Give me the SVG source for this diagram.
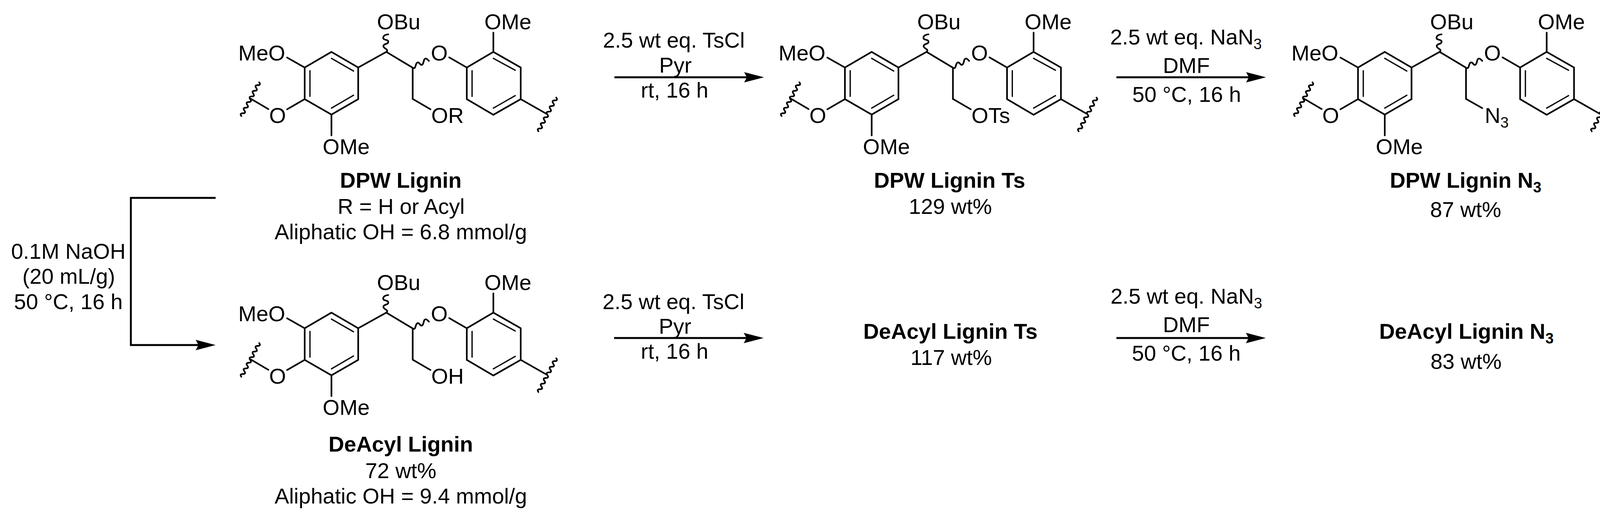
<svg xmlns="http://www.w3.org/2000/svg" xmlns:xlink="http://www.w3.org/1999/xlink" width="4144" height="1322" viewBox="0 0 4144 1322">
<style>
text{font-family:"Liberation Sans",Arial,sans-serif;font-size:55.5px;fill:#000}
.m{text-anchor:middle}
.b{font-weight:bold}
.bond{fill:none;stroke:#000;stroke-width:4.2;stroke-linejoin:miter;stroke-linecap:round}
.thin{stroke-width:3.2}
.arr{fill:none;stroke:#000;stroke-width:4.8}
</style>
<defs>
<marker id="head" markerUnits="userSpaceOnUse" viewBox="0 0 51 28" refX="31" refY="14" markerWidth="51" markerHeight="28" orient="auto"><path d="M0 0.7L51 14L0 27.3L7 14Z" fill="#000"/></marker>
<g id="core" class="bond">
<path d="M848.5 133L917 173V254L848.5 293.5L780 254V173Z"/>
<path class="thin" d="M848.5 149.5L905 182M793.5 181V247M905 244L848.5 277"/>
<path d="M917 173L989 133L1056.5 173.5V253.5"/>
<path d="M780 173L735 147.5M780 254L735 280M687 279.5L642 253M848.5 293.5V347"/>
<path d="M1263 133L1333 173V254L1263 294L1195 254V173Z"/>
<path class="thin" d="M1263 149.5L1319 180M1208.5 181V247M1319 245L1263 277"/>
<path d="M1263 133V83.5M1195 173L1150 147M1333 254L1398 291"/>
<path d="M989.5 133C996 125 981 125 981.5 118C982 111 994 114 994 107C994 100 981 104 981 97C981 91 988 88 994 88"/>
<path d="M1057 174C1066 178 1062 162 1069 160C1075 159 1075 168 1080 166C1086 164 1083 150 1090 150C1093 150 1096 154 1098 156"/>
<path d="M663.5 211q5.1 7.2 -3.8 7.2q-8.9 0 -3.8 7.2q5.1 7.2 -3.8 7.2q-8.9 0 -3.8 7.2q5.1 7.2 -3.8 7.2q-8.9 0 -3.8 7.2q5.1 7.2 -3.8 7.2q-8.9 0 -3.8 7.2q5.1 7.2 -3.8 7.2q-8.9 0 -3.8 7.2q5.1 7.2 -3.8 7.2q-8.9 0 -3.8 7.2"/>
<path d="M1424 250q5.1 7.2 -3.8 7.2q-8.9 0 -3.8 7.2q5.1 7.2 -3.8 7.2q-8.9 0 -3.8 7.2q5.1 7.2 -3.8 7.2q-8.9 0 -3.8 7.2q5.1 7.2 -3.8 7.2q-8.9 0 -3.8 7.2q5.1 7.2 -3.8 7.2q-8.9 0 -3.8 7.2q5.1 7.2 -3.8 7.2q-8.9 0 -3.8 7.2"/>
</g>
</defs>
<rect width="4144" height="1322" fill="#fff"/>
<g id="dpw-lignin">
<use href="#core" xlink:href="#core"/>
<path class="bond" d="M1056.5 253.5L1102 280"/>
<text x="965" y="75">OBu</text><text x="1240" y="75">OMe</text><text x="610" y="155">MeO</text><text x="1103" y="155">O</text><text x="689" y="315">O</text><text x="826" y="395">OMe</text><text x="1104" y="315">OR</text>
<text class="m b" x="1026" y="481">DPW Lignin</text><text class="m" x="1027" y="548">R = H or Acyl</text><text class="m" x="1026" y="613">Aliphatic OH = 6.8 mmol/g</text>
</g>
<g id="dpw-lignin-ts">
<use href="#core" xlink:href="#core" transform="translate(1383 0)"/>
<path class="bond" d="M2439.5 253.5L2485 280"/>
<text x="2348" y="75">OBu</text><text x="2623" y="75">OMe</text><text x="1993" y="155">MeO</text><text x="2486" y="155">O</text><text x="2072" y="315">O</text><text x="2209" y="395">OMe</text><text x="2487" y="315">OTs</text>
<text class="m b" x="2431" y="481">DPW Lignin Ts</text><text class="m" x="2433" y="548">129 wt%</text>
</g>
<g id="dpw-lignin-n3">
<use href="#core" xlink:href="#core" transform="translate(2696.5 0)"/>
<path class="bond" d="M3753 253.5L3794.5 277"/>
<text x="3661" y="75">OBu</text><text x="3937" y="75">OMe</text><text x="3306" y="155">MeO</text><text x="3799" y="155">O</text><text x="3385" y="315">O</text><text x="3522" y="395">OMe</text><text x="3801" y="315">N<tspan dy="12" font-size="38">3</tspan></text>
<text class="m b" x="3752" y="481">DPW Lignin N<tspan dy="12" font-size="38">3</tspan></text><text class="m" x="3752" y="556">87 wt%</text>
</g>
<g id="deacyl-lignin">
<use href="#core" xlink:href="#core" transform="translate(0 668)"/>
<path class="bond" d="M1056.5 921.5L1102 948"/>
<text x="965" y="743">OBu</text><text x="1240" y="743">OMe</text><text x="610" y="823">MeO</text><text x="1103" y="823">O</text><text x="689" y="983">O</text><text x="826" y="1063">OMe</text><text x="1104" y="983">OH</text>
<text class="m b" x="1026" y="1157">DeAcyl Lignin</text><text class="m" x="1026" y="1225">72 wt%</text><text class="m" x="1026" y="1290">Aliphatic OH = 9.4 mmol/g</text>
</g>
<g id="deacyl-lignin-ts">
<text class="m b" x="2433" y="868">DeAcyl Lignin Ts</text><text class="m" x="2435" y="935">117 wt%</text>
</g>
<g id="deacyl-lignin-n3">
<text class="m b" x="3754" y="868">DeAcyl Lignin N<tspan dy="12" font-size="38">3</tspan></text><text class="m" x="3753" y="945">83 wt%</text>
</g>
<g id="connectors">
<path class="arr" d="M552 507H335V884H532" marker-end="url(#head)"/>
<path class="arr" d="M1573 198H1936" marker-end="url(#head)"/>
<path class="arr" d="M2858 198H3221" marker-end="url(#head)"/>
<path class="arr" d="M1572 866H1935" marker-end="url(#head)"/>
<path class="arr" d="M2858 866H3220.5" marker-end="url(#head)"/>
</g>
<g id="conditions">
<text class="m" x="175" y="663">0.1M NaOH</text><text class="m" x="176" y="727">(20 mL/g)</text><text class="m" x="175" y="792">50 °C, 16 h</text>
<text class="m" x="1725" y="122">2.5 wt eq. TsCl</text><text class="m" x="1729" y="186">Pyr</text><text class="m" x="1727" y="250">rt, 16 h</text>
<text class="m" x="3036" y="114">2.5 wt eq. NaN<tspan dy="12" font-size="38">3</tspan></text><text class="m" x="3037" y="187">DMF</text><text class="m" x="3038" y="261">50 °C, 16 h</text>
<text class="m" x="1724" y="792">2.5 wt eq. TsCl</text><text class="m" x="1728" y="855">Pyr</text><text class="m" x="1727" y="919">rt, 16 h</text>
<text class="m" x="3037" y="778">2.5 wt eq. NaN<tspan dy="12" font-size="38">3</tspan></text><text class="m" x="3037" y="851">DMF</text><text class="m" x="3037" y="924">50 °C, 16 h</text>
</g>
</svg>
